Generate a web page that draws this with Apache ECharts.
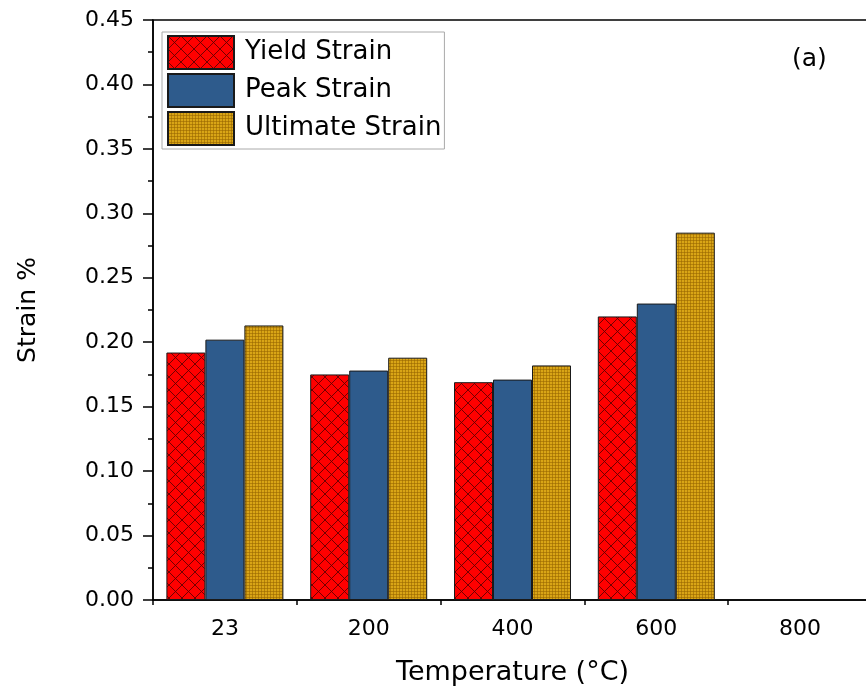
<!DOCTYPE html>
<html>
<head>
<meta charset="utf-8">
<script src="https://cdn.jsdelivr.net/npm/echarts@6/dist/echarts.min.js"></script>
<style>
  html, body { margin: 0; padding: 0; background: #fff; overflow: hidden; }
  #chart { width: 880px; height: 698px; }
</style>
</head>
<body>
<div id="chart"></div>
<script>
// Strain values at each test temperature
const temperatures = ['23', '200', '400', '600', '800'];
const yieldStrain = [0.192, 0.175, 0.169, 0.220, null];
const peakStrain = [0.202, 0.178, 0.171, 0.230, null];
const ultimateStrain = [0.213, 0.188, 0.182, 0.285, null];
const seriesNames = ['Yield Strain', 'Peak Strain', 'Ultimate Strain'];

// Cross-hatched red fill
function crossHatch() {
  const c = document.createElement('canvas');
  c.width = 13; c.height = 13;
  const g = c.getContext('2d');
  g.fillStyle = '#ff0000';
  g.fillRect(0, 0, 13, 13);
  g.strokeStyle = 'rgba(90,0,0,0.85)';
  g.lineWidth = 1;
  g.beginPath();
  g.moveTo(0, 0); g.lineTo(13, 13);
  g.moveTo(0, 13); g.lineTo(13, 0);
  g.stroke();
  return c;
}
// Fine dotted gold fill
function fineGrid() {
  const c = document.createElement('canvas');
  c.width = 3; c.height = 3;
  const g = c.getContext('2d');
  g.fillStyle = '#d9a516';
  g.fillRect(0, 0, 3, 3);
  g.fillStyle = 'rgba(150,100,0,0.55)';
  g.fillRect(0, 0, 3, 1);
  g.fillRect(0, 0, 1, 3);
  return c;
}

const fills = [
  { image: crossHatch(), repeat: 'repeat' },
  '#2e5b8c',
  { image: fineGrid(), repeat: 'repeat' }
];
const values = [yieldStrain, peakStrain, ultimateStrain];

const chart = echarts.init(document.getElementById('chart'), null, { renderer: 'canvas' });
const font = 'DejaVu Sans, sans-serif';

chart.setOption({
  animation: false,
  backgroundColor: '#fff',
  grid: {
    left: 153, top: 20, width: 719, height: 580,
    show: true, borderColor: '#000', borderWidth: 1.5, backgroundColor: 'transparent'
  },
  legend: {
    orient: 'vertical', left: 162, top: 32,
    icon: 'rect',
    itemWidth: 66, itemHeight: 33, itemGap: 3,
    padding: [3, 3, 3, 5],
    borderColor: '#aaa', borderWidth: 1,
    textStyle: { fontFamily: font, fontSize: 26, lineHeight: 28, color: '#000', padding: [0, 0, 0, 6] },
    data: seriesNames
  },
  xAxis: [{
    type: 'category',
    data: temperatures,
    name: 'Temperature (°C)',
    nameLocation: 'middle', nameGap: 59,
    nameTextStyle: { fontFamily: font, fontSize: 27, color: '#000' },
    axisLine: { lineStyle: { color: '#000', width: 1.5 } },
    axisTick: { alignWithLabel: true, length: 11, lineStyle: { color: '#000', width: 1.5 } },
    axisLabel: { fontFamily: font, fontSize: 22, color: '#000', margin: 18 },
    splitLine: { show: false }
  }, {
    type: 'category',
    data: temperatures,
    position: 'bottom',
    axisLine: { show: false },
    axisTick: { show: true, length: 5, interval: 0, lineStyle: { color: '#000', width: 1.5 } },
    axisLabel: { show: false },
    splitLine: { show: false }
  }],
  yAxis: {
    type: 'value', min: 0, max: 0.45, interval: 0.05,
    name: 'Strain %', nameLocation: 'middle', nameGap: 112,
    nameTextStyle: { fontFamily: font, fontSize: 25, color: '#000' },
    axisLine: { show: true, lineStyle: { color: '#000', width: 1.5 } },
    axisTick: { show: true, length: 10, lineStyle: { color: '#000', width: 1.5 } },
    minorTick: { show: true, splitNumber: 2, length: 5, lineStyle: { color: '#000', width: 1.5 } },
    axisLabel: { fontFamily: font, fontSize: 22, color: '#000', margin: 19,
      formatter: v => v.toFixed(2) },
    splitLine: { show: false }
  },
  graphic: [{
    type: 'text', left: 792, top: 47,
    style: { text: '(a)', fontFamily: font, fontSize: 25, fill: '#000' }
  }],
  series: seriesNames.map((name, i) => ({
    name, type: 'bar', xAxisIndex: 0,
    data: values[i],
    barWidth: 39, barGap: '0%',
    itemStyle: { color: fills[i], borderColor: '#1a1a1a', borderWidth: 1 }
  }))
});
</script>
</body>
</html>
